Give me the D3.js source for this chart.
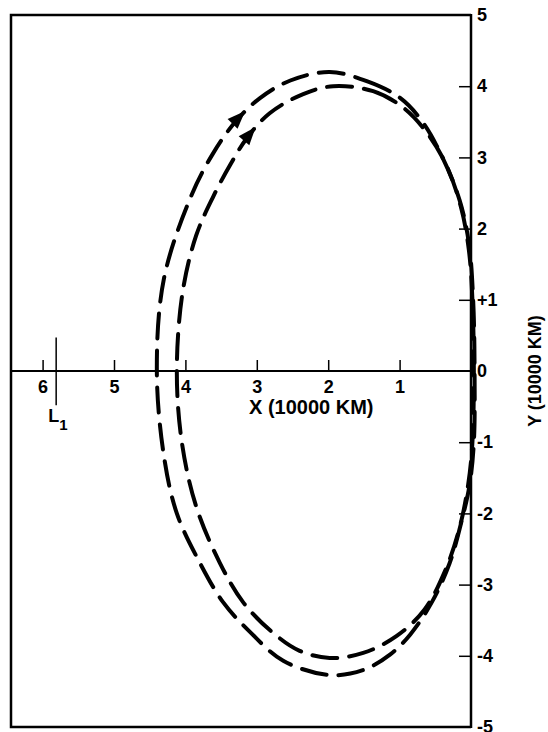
<!DOCTYPE html>
<html>
<head>
<meta charset="utf-8">
<script src="https://cdn.jsdelivr.net/npm/d3@7"></script>
<style>
  body { margin: 0; background: #fff; }
  svg text { font-family: 'Liberation Sans', Arial, sans-serif; font-weight: bold; fill: #000; }
</style>
</head>
<body>
<div id="chart"></div>
<script>
// tick values / labels
const xTicks = [6, 5, 4, 3, 2, 1];
const yTicks = [5, 4, 3, 2, 1, 0, -1, -2, -3, -4, -5];
const yTickLabels = ['5', '4', '3', '2', '+1', '0', '-1', '-2', '-3', '-4', '-5'];
const l1X = 5.81; // libration point position (10000 km)

// orbits, [x, y] in 10000 km
const outerOrbit = [
  [1.98, 4.20], [1.46, 4.07], [1.0, 3.84], [0.68, 3.5], [0.4, 3.0], [0.16, 2.4],
  [0.03, 1.8], [-0.03, 1.0], [-0.05, 0], [-0.04, -1.0], [0.02, -1.6], [0.13, -2.1],
  [0.3, -2.7], [0.55, -3.25], [0.85, -3.7], [1.13, -3.98], [1.51, -4.2], [1.98, -4.27],
  [2.63, -4.07], [3.1, -3.66], [3.47, -3.25], [3.8, -2.69], [4.12, -2.0], [4.3, -1.2],
  [4.40, 0], [4.3, 1.3], [3.91, 2.48], [3.61, 3.06], [3.3, 3.5], [2.96, 3.83], [2.53, 4.08],
];
const innerOrbit = [
  [1.93, 4.0], [1.37, 3.93], [0.95, 3.7], [0.62, 3.35], [0.35, 2.9], [0.14, 2.3],
  [0.03, 1.7], [-0.02, 1.0], [-0.04, 0], [-0.02, -1.0], [0.04, -1.6], [0.16, -2.2],
  [0.36, -2.8], [0.65, -3.35], [1.04, -3.72], [1.51, -3.96], [1.98, -4.03], [2.4, -3.93],
  [2.77, -3.68], [3.19, -3.25], [3.52, -2.69], [3.85, -1.9], [4.05, -1.0], [4.12, 0],
  [4.04, 1.1], [3.85, 1.9], [3.61, 2.45], [3.37, 2.9], [3.14, 3.27], [2.82, 3.62], [2.35, 3.89],
];
// where the arrow heads sit on each orbit
const arrowTips = [[3.19, 3.67], [3.0, 3.41]];

const width = 548;
const height = 732;
const boxLeft = 11;

const x = d3.scaleLinear().domain([0, 6]).range([471, 42.6]);
const y = d3.scaleLinear().domain([-5, 5]).range([727, 15]);

const svg = d3.select('#chart').append('svg')
  .attr('width', width)
  .attr('height', height);

// frame: left, top, bottom (right side is the Y axis)
svg.append('path')
  .attr('d', `M${x(0)},${y(5)}H${boxLeft}V${y(-5)}H${x(0)}`)
  .attr('fill', 'none')
  .attr('stroke', '#000')
  .attr('stroke-width', 2.5);

// X axis along y = 0, ticks upward, labels below
const xAxis = svg.append('g')
  .attr('transform', `translate(0,${y(0)})`)
  .call(d3.axisBottom(x)
    .tickValues(xTicks)
    .tickSizeInner(-11)
    .tickSizeOuter(0)
    .tickPadding(9)
    .tickFormat(d3.format('d')));
xAxis.select('.domain').remove();
xAxis.selectAll('.tick line').attr('stroke-width', 1.5);
xAxis.selectAll('.tick text').attr('font-size', 18);

svg.append('line')
  .attr('x1', boxLeft).attr('x2', x(0))
  .attr('y1', y(0)).attr('y2', y(0))
  .attr('stroke', '#000')
  .attr('stroke-width', 2.2);

// Y axis on the right, ticks to the left, labels to the right
const yAxis = svg.append('g')
  .attr('transform', `translate(${x(0)},0)`)
  .call(d3.axisRight(y)
    .tickValues(yTicks)
    .tickSizeInner(-12)
    .tickSizeOuter(0)
    .tickPadding(6)
    .tickFormat((d, i) => yTickLabels[i]));
yAxis.select('.domain').remove();
yAxis.selectAll('.tick line')
  .attr('stroke-width', 1.5)
  .attr('display', d => (d === 0 || Math.abs(d) === 5 ? 'none' : null));
yAxis.selectAll('.tick text').attr('font-size', 18);

svg.append('line')
  .attr('x1', x(0)).attr('x2', x(0))
  .attr('y1', y(5) - 1).attr('y2', y(-5) + 1)
  .attr('stroke', '#000')
  .attr('stroke-width', 2.5);

// L1 marker
svg.append('line')
  .attr('x1', x(l1X)).attr('x2', x(l1X))
  .attr('y1', y(0.47)).attr('y2', y(-0.48))
  .attr('stroke', '#000')
  .attr('stroke-width', 1.5);
const l1Label = svg.append('text')
  .attr('x', x(l1X) - 8)
  .attr('y', y(-0.72))
  .attr('font-size', 18);
l1Label.append('tspan').text('L');
l1Label.append('tspan').attr('dy', 8).attr('font-size', 15).text('1');

// axis titles
svg.append('text')
  .attr('x', 249)
  .attr('y', y(-0.6))
  .attr('font-size', 20)
  .text('X (10000 KM)');

svg.append('text')
  .attr('transform', `translate(541,${y(0)}) rotate(-90)`)
  .attr('text-anchor', 'middle')
  .attr('font-size', 18)
  .text('Y (10000 KM)');

// orbits
const line = d3.line()
  .x(d => x(d[0]))
  .y(d => y(d[1]))
  .curve(d3.curveCatmullRomClosed.alpha(0.5));

[outerOrbit, innerOrbit].forEach((orbit, i) => {
  const path = svg.append('path')
    .attr('d', line(orbit))
    .attr('fill', 'none')
    .attr('stroke', '#000')
    .attr('stroke-width', 4)
    .attr('stroke-linecap', 'round')
    .attr('stroke-dasharray', '25 12');

  // find the point on the path nearest to the arrow tip and draw the head along the tangent
  const node = path.node();
  const total = node.getTotalLength();
  const tx = x(arrowTips[i][0]);
  const ty = y(arrowTips[i][1]);
  let best = 0;
  let bestD = Infinity;
  for (let l = 0; l < total; l += 1) {
    const p = node.getPointAtLength(l);
    const dd = ((p.x - tx) ** 2) + ((p.y - ty) ** 2);
    if (dd < bestD) { bestD = dd; best = l; }
  }
  const p0 = node.getPointAtLength(best - 2);
  const p1 = node.getPointAtLength(best + 2);
  const angle = Math.atan2(p1.y - p0.y, p1.x - p0.x) * 180 / Math.PI;
  const tip = node.getPointAtLength(best);

  svg.append('path')
    .attr('d', 'M0,0L-18,-7L-18,7Z')
    .attr('transform', `translate(${tip.x},${tip.y}) rotate(${angle})`)
    .attr('fill', '#000');
});
</script>
</body>
</html>
